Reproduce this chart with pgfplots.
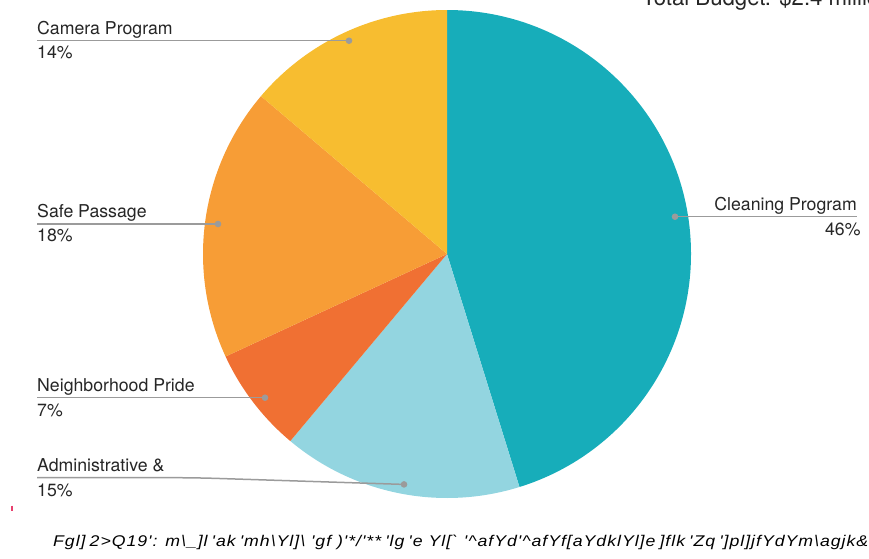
\documentclass[border=0pt]{standalone}
\usepackage{pgfplots}
\pgfplotsset{compat=1.18}
\usepackage{pgfplotstable}
\usepackage{fontspec}
\setmainfont{TeX Gyre Heros}
\newfontfamily\capfont[FakeStretch=0.72, LetterSpace=4]{Liberation Sans}
\definecolor{cTeal}{HTML}{17ADBA}
\definecolor{cLight}{HTML}{93D5E0}
\definecolor{cRed}{HTML}{F07033}
\definecolor{cOrange}{HTML}{F79D36}
\definecolor{cYellow}{HTML}{F7BD30}
\definecolor{lineGray}{HTML}{9B9B9B}
\definecolor{txt}{HTML}{262626}
\definecolor{pinkmark}{HTML}{E8406E}
\newcommand\lbl{\fontsize{17.7}{20}\selectfont}
\pgfplotstableread{
name value
Cleaning 45.2
Administrative 15.9
Pride 7.0
Safe 18.1
Camera 13.8
}\piedata
\newsavebox\capbox
\begin{document}%
\pgfplotstablegetelem{0}{value}\of\piedata\pgfmathsetmacro\vA{\pgfplotsretval}%
\pgfplotstablegetelem{1}{value}\of\piedata\pgfmathsetmacro\vB{\pgfplotsretval}%
\pgfplotstablegetelem{2}{value}\of\piedata\pgfmathsetmacro\vC{\pgfplotsretval}%
\pgfplotstablegetelem{3}{value}\of\piedata\pgfmathsetmacro\vD{\pgfplotsretval}%
\pgfplotstablegetelem{4}{value}\of\piedata\pgfmathsetmacro\vE{\pgfplotsretval}%
\pgfmathsetmacro\aA{90}%
\pgfmathsetmacro\aB{\aA-3.6*\vA}%
\pgfmathsetmacro\aC{\aB-3.6*\vB}%
\pgfmathsetmacro\aD{\aC-3.6*\vC}%
\pgfmathsetmacro\aE{\aD-3.6*\vD}%
\pgfmathsetmacro\aF{\aE-3.6*\vE}%
\sbox\capbox{\capfont\itshape\fontsize{15.5}{18}\selectfont Fgl]\,2>Q19': m\textbackslash\_]l\,'ak\,'mh\textbackslash Yl]\textbackslash\ 'gf\ )'*/'**\,'lg\,'e Yl[`\ '\textasciicircum afYd'\textasciicircum afYf[aYdklYl]e\,]flk\,'Zq\,']pl]jfYdYm\textbackslash agjk\&}%
\pgfmathsetmacro\capsc{815/\the\wd\capbox}%
\begin{tikzpicture}
\begin{axis}[name=ax, scale only axis, width=869pt, height=558pt,
  xmin=0, xmax=869, ymin=0, ymax=558, y dir=reverse, hide axis, clip=false]
\fill[cTeal]   (axis cs:447,254) -- +(\aA:244pt) arc[start angle=\aA, end angle=\aB, radius=244pt] -- cycle;
\fill[cLight]  (axis cs:447,254) -- +(\aB:244pt) arc[start angle=\aB, end angle=\aC, radius=244pt] -- cycle;
\fill[cRed]    (axis cs:447,254) -- +(\aC:244pt) arc[start angle=\aC, end angle=\aD, radius=244pt] -- cycle;
\fill[cOrange] (axis cs:447,254) -- +(\aD:244pt) arc[start angle=\aD, end angle=\aE, radius=244pt] -- cycle;
\fill[cYellow] (axis cs:447,254) -- +(\aE:244pt) arc[start angle=\aE, end angle=\aF, radius=244pt] -- cycle;
% leader lines
\draw[lineGray, line width=1.5pt] (axis cs:37,40.7) -- (axis cs:349,40.7);
\fill[lineGray] (axis cs:349,40.7) circle[radius=3.3pt];
\draw[lineGray, line width=1.5pt] (axis cs:37,224) -- (axis cs:218,224);
\fill[lineGray] (axis cs:218,224) circle[radius=3.3pt];
\draw[lineGray, line width=1.5pt] (axis cs:37,397.7) -- (axis cs:265,397.7);
\fill[lineGray] (axis cs:265,397.7) circle[radius=3.3pt];
\draw[lineGray, line width=1.5pt, rounded corners=20pt] (axis cs:37,477.7) -- (axis cs:195,477.7) -- (axis cs:404,484.4);
\fill[lineGray] (axis cs:404,484.4) circle[radius=3.3pt];
\draw[lineGray, line width=1.5pt] (axis cs:675,216.7) -- (axis cs:857,216.7);
\fill[lineGray] (axis cs:675,216.7) circle[radius=3.3pt];
% labels
\node[anchor=base west, inner sep=0, font=\lbl, text=txt] at (axis cs:37,34.3) {Camera Program};
\node[anchor=base west, inner sep=0, font=\lbl, text=txt] at (axis cs:37,58.3) {14\%};
\node[anchor=base west, inner sep=0, font=\lbl, text=txt] at (axis cs:37,217.3) {Safe Passage};
\node[anchor=base west, inner sep=0, font=\lbl, text=txt] at (axis cs:37,241.7) {18\%};
\node[anchor=base west, inner sep=0, font=\lbl, text=txt] at (axis cs:37,391) {Neighborhood Pride};
\node[anchor=base west, inner sep=0, font=\lbl, text=txt] at (axis cs:37,416.7) {7\%};
\node[anchor=base west, inner sep=0, font=\lbl, text=txt] at (axis cs:37,471.7) {Administrative \&};
\node[anchor=base west, inner sep=0, font=\lbl, text=txt] at (axis cs:37,496.7) {15\%};
\node[anchor=base east, inner sep=0, font=\lbl, text=txt] at (axis cs:857,210) {Cleaning Program};
\node[anchor=base east, inner sep=0, font=\lbl, text=txt] at (axis cs:860.7,235) {46\%};
% title (clipped at top)
\node[anchor=base west, inner sep=0, font=\fontsize{22.2}{26}\selectfont, text=txt] at (axis cs:642,5.7) {Total Budget: \$2.4 million};
% small mark
\draw[pinkmark, line width=1.2pt] (axis cs:12,505.5) -- (axis cs:12,510.5);
% caption
\node[anchor=base west, inner sep=0, text=txt] at (axis cs:53,546.7) {\scalebox{\capsc}[1]{\usebox\capbox}};
\end{axis}
\pgfresetboundingbox
\useasboundingbox (ax.south west) rectangle (ax.north east);
\end{tikzpicture}%
\end{document}
